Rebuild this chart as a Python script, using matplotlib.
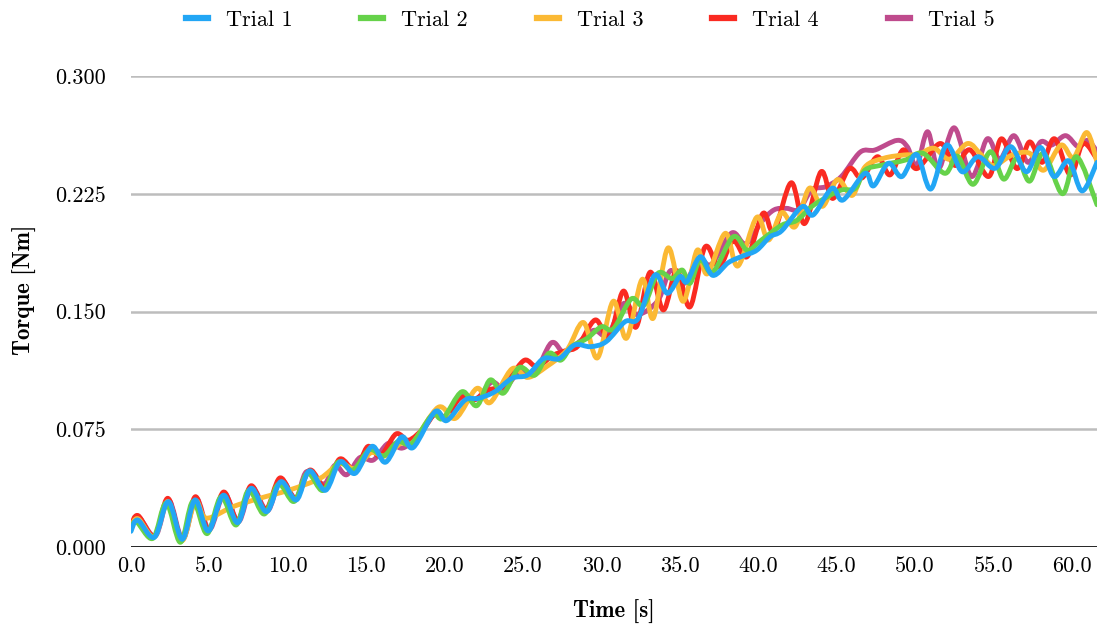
import numpy as np
import matplotlib
matplotlib.use("Agg")
import matplotlib.pyplot as plt
from matplotlib.path import Path
from matplotlib.patches import PathPatch
from matplotlib.lines import Line2D
from matplotlib.ticker import FormatStrFormatter

# ---- data: time [s] and torque [Nm] per trial ----
trial1_t = [0.0, 0.43, 1.49, 2.38, 3.27, 4.08, 4.93, 5.89, 6.8, 7.65, 8.65, 9.55, 10.55, 11.37, 12.4,
            13.33, 14.29, 15.36, 16.23, 17.26, 18.0, 19.39, 20.13, 21.3, 22.15, 23.2, 24.3, 25.3, 26.3,
            27.3, 28.3, 29.3, 30.3, 31.5, 32.35, 33.4, 34.2, 35.0, 35.45, 36.3, 37.1, 38.1, 39.05, 39.9,
            40.75, 41.5, 42.8, 43.5, 44.7, 45.4, 46.8, 47.35, 48.3, 49.15, 50.1, 51.0, 52.0, 53.0, 54.0,
            55.1, 56.1, 57.1, 58.0, 58.85, 59.8, 60.65, 61.6]
trial1_v = [0.010, 0.0172, 0.0062, 0.0289, 0.0049, 0.030, 0.0102, 0.033, 0.0155, 0.0374, 0.0225, 0.0416,
            0.0300, 0.0485, 0.0361, 0.0543, 0.0469, 0.0641, 0.054, 0.0701, 0.0634, 0.0862, 0.0805, 0.0936,
            0.0947, 0.0989, 0.1075, 0.1096, 0.120, 0.120, 0.1287, 0.1276, 0.1308, 0.1435, 0.1457, 0.1732,
            0.1616, 0.1722, 0.169, 0.1849, 0.173, 0.1812, 0.1855, 0.189, 0.1976, 0.2015, 0.2168, 0.2115,
            0.2285, 0.221, 0.238, 0.2300, 0.2444, 0.2359, 0.2500, 0.2280, 0.2560, 0.2390, 0.2486, 0.2412,
            0.2550, 0.2390, 0.2545, 0.2360, 0.2460, 0.2268, 0.2450]

trial2_t = [0.0, 0.35, 1.4, 2.25, 3.15, 3.95, 4.85, 5.75, 6.7, 7.5, 8.5, 9.4, 10.4, 11.25, 12.25, 13.2,
            14.15, 15.2, 16.1, 17.0, 17.9, 19.2, 19.9, 21.1, 22.05, 22.9, 23.75, 24.75, 25.75, 26.65,
            27.4, 28.1, 29.1, 30.0, 30.76, 31.9, 32.7, 33.6, 34.5, 35.15, 35.65, 36.3, 37.1, 38.4, 39.3,
            40.2, 41.5, 42.45, 43.4, 44.4, 45.3, 46.2, 46.8, 47.9, 49.4, 50.5, 51.9, 52.7, 53.7, 54.8,
            55.65, 56.5, 57.3, 58.2, 59.4, 60.3, 61.6]
trial2_v = [0.012, 0.016, 0.0055, 0.028, 0.003, 0.029, 0.0085, 0.032, 0.014, 0.036, 0.021, 0.040, 0.029,
            0.047, 0.036, 0.054, 0.049, 0.062, 0.058, 0.067, 0.066, 0.084, 0.082, 0.0989, 0.090, 0.1064,
            0.098, 0.1143, 0.1095, 0.1234, 0.119, 0.1276, 0.133, 0.1403, 0.139, 0.158, 0.154, 0.1743,
            0.171, 0.1764, 0.168, 0.183, 0.175, 0.1976, 0.189, 0.1955, 0.205, 0.208, 0.2168, 0.223,
            0.2274, 0.2285, 0.240, 0.2433, 0.2465, 0.2508, 0.238, 0.249, 0.231, 0.2518, 0.2343, 0.2476,
            0.233, 0.2508, 0.225, 0.2486, 0.218]

trial3_t = [0.0, 0.45, 1.5, 2.35, 3.25, 4.1, 4.8, 6.5, 8.2, 10.1, 12.05, 13.3, 14.3, 15.3, 16.2, 17.2,
            18.0, 19.6, 20.7, 22.05, 22.9, 24.3, 25.3, 26.5, 27.8, 28.85, 29.75, 30.75, 31.6, 32.6, 33.3,
            34.25, 35.2, 36.1, 36.75, 37.9, 38.7, 39.9, 40.65, 41.5, 42.35, 43.25, 44.1, 45.05, 46.0,
            46.8, 48.0, 49.3, 50.2, 51.2, 52.2, 53.35, 54.2, 55.0, 56.2, 57.3, 58.2, 59.3, 60.1, 60.95,
            61.6]
trial3_v = [0.013, 0.018, 0.0065, 0.029, 0.004, 0.029, 0.0184, 0.0257, 0.031, 0.0363, 0.0437, 0.053,
            0.050, 0.060, 0.058, 0.066, 0.067, 0.089, 0.082, 0.101, 0.0920, 0.1135, 0.1080, 0.1149,
            0.1255, 0.1430, 0.1205, 0.1565, 0.1330, 0.1705, 0.1457, 0.1905, 0.1565, 0.189, 0.174, 0.1998,
            0.1790, 0.210, 0.1955, 0.2130, 0.2040, 0.2285, 0.2170, 0.2340, 0.2240, 0.2420, 0.2476,
            0.2497, 0.2500, 0.2540, 0.2470, 0.2570, 0.2500, 0.2430, 0.2497, 0.2508, 0.2400, 0.2560,
            0.2480, 0.2640, 0.2450]

trial4_t = [0.0, 0.45, 1.5, 2.35, 3.25, 4.1, 4.95, 5.9, 6.8, 7.65, 8.6, 9.5, 10.5, 11.4, 12.4, 13.3,
            14.3, 15.1, 15.9, 16.9, 17.7, 18.7, 19.4, 20.1, 21.0, 21.9, 22.8, 23.7, 24.2, 25.1, 25.9,
            26.9, 27.7, 28.5, 29.6, 30.5, 31.4, 32.2, 33.1, 33.95, 34.8, 35.65, 36.6, 37.5, 38.4, 39.3,
            40.3, 41.0, 42.1, 42.95, 44.0, 44.75, 45.8, 46.6, 47.6, 48.4, 49.25, 50.1, 51.6, 52.55, 53.5,
            54.7, 55.5, 56.5, 57.3, 58.1, 58.9, 59.9, 60.7, 61.6]
trial4_v = [0.014, 0.020, 0.007, 0.031, 0.005, 0.032, 0.011, 0.035, 0.017, 0.039, 0.024, 0.044, 0.031,
            0.049, 0.038, 0.056, 0.049, 0.064, 0.058, 0.072, 0.068, 0.076, 0.085, 0.083, 0.095, 0.094,
            0.100, 0.102, 0.108, 0.119, 0.1149, 0.122, 0.125, 0.128, 0.1446, 0.134, 0.163, 0.140, 0.175,
            0.151, 0.176, 0.153, 0.191, 0.1785, 0.195, 0.185, 0.2125, 0.201, 0.232, 0.206, 0.239, 0.222,
            0.241, 0.235, 0.2486, 0.237, 0.253, 0.241, 0.257, 0.243, 0.253, 0.236, 0.260, 0.241, 0.258,
            0.245, 0.260, 0.237, 0.257, 0.247]

trial5_t = [0.0, 0.5, 1.55, 2.4, 3.3, 4.15, 5.0, 5.95, 6.85, 7.7, 8.7, 9.55, 10.5, 11.2, 12.3, 13.0,
            13.75, 14.6, 15.45, 16.4, 17.3, 18.2, 19.4, 20.1, 21.0, 22.0, 23.0, 23.8, 24.8, 25.7, 26.8,
            27.6, 28.5, 29.5, 30.4, 31.4, 32.3, 33.6, 34.4, 35.3, 36.2, 37.0, 38.3, 39.2, 40.2, 41.0,
            41.8, 42.6, 43.4, 44.3, 45.3, 46.5, 47.45, 48.85, 49.5, 50.1, 50.8, 51.5, 52.5, 53.6, 54.6,
            55.4, 56.3, 57.2, 58.0, 58.7, 59.6, 60.4, 61.0, 61.6]
trial5_v = [0.013, 0.019, 0.007, 0.030, 0.005, 0.031, 0.011, 0.034, 0.016, 0.038, 0.023, 0.043, 0.031,
            0.048, 0.040, 0.052, 0.046, 0.057, 0.0554, 0.066, 0.063, 0.070, 0.085, 0.083, 0.096, 0.094,
            0.105, 0.101, 0.112, 0.110, 0.130, 0.124, 0.130, 0.138, 0.135, 0.155, 0.148, 0.157, 0.176,
            0.168, 0.184, 0.180, 0.200, 0.193, 0.207, 0.2147, 0.2157, 0.215, 0.2274, 0.2295, 0.236,
            0.2515, 0.2529, 0.259, 0.255, 0.243, 0.2645, 0.241, 0.267, 0.236, 0.260, 0.247, 0.262, 0.245,
            0.258, 0.256, 0.262, 0.255, 0.259, 0.252]

labels = ["Trial 1", "Trial 2", "Trial 3", "Trial 4", "Trial 5"]
colors = ["#22a6f5", "#66d24a", "#fbb934", "#fa2a21", "#bf4b8d"]
series = [(trial1_t, trial1_v), (trial2_t, trial2_v), (trial3_t, trial3_v),
          (trial4_t, trial4_v), (trial5_t, trial5_v)]

x_ticks = np.arange(0, 61, 5.0)
y_ticks = [0.000, 0.075, 0.150, 0.225, 0.300]


def smooth_path(t, v):
    """Catmull-Rom curve through the samples, expressed as cubic Bezier segments."""
    p = np.column_stack([t, v]).astype(float)
    ext = np.vstack([p[0], p, p[-1]])
    verts = [p[0]]
    codes = [Path.MOVETO]
    for i in range(len(p) - 1):
        p0, p1, p2, p3 = ext[i], ext[i + 1], ext[i + 2], ext[i + 3]
        verts += [p1 + (p2 - p0) / 6.0, p2 - (p3 - p1) / 6.0, p2]
        codes += [Path.CURVE4] * 3
    return Path(verts, codes)


plt.rcParams["font.family"] = "cmr10"
plt.rcParams["mathtext.fontset"] = "cm"
plt.rcParams["axes.formatter.use_mathtext"] = True

fig = plt.figure(figsize=(10.99, 6.30), dpi=100)
ax = fig.add_axes([131 / 1099, 83 / 630, 966 / 1099, 471 / 630])

# later trials underneath, Trial 1 on top
for (t, v), c in list(zip(series, colors))[::-1]:
    assert len(t) == len(v)
    ax.add_patch(PathPatch(smooth_path(t, v), facecolor="none", edgecolor=c, lw=3.5,
                           capstyle="round", joinstyle="round", zorder=3))

ax.set_xlim(0, 61.6)
ax.set_ylim(0, 0.3)
ax.set_xticks(x_ticks)
ax.set_yticks(y_ticks)
ax.xaxis.set_major_formatter(FormatStrFormatter("%.1f"))
ax.yaxis.set_major_formatter(FormatStrFormatter("%.3f"))
ax.tick_params(axis="both", length=0, labelsize=16)
ax.tick_params(axis="y", pad=18)
ax.tick_params(axis="x", pad=7)

for s in ax.spines.values():
    s.set_visible(False)
for yv in y_ticks[1:]:
    ax.axhline(yv, color="#bdbdbd", lw=1.8, zorder=1)
ax.axhline(0, color="#111111", lw=2.0, zorder=2)

ax.set_xlabel("Time [s]", fontsize=16.5, family="cmb10")
ax.set_ylabel("Torque [Nm]", fontsize=16.5, family="cmb10")
ax.xaxis.set_label_coords(0.5, -0.112)
ax.yaxis.set_label_coords(-0.0975, 0.546)

handles = [Line2D([], [], color=c, lw=4.5) for c in colors]
fig.legend(handles, labels, loc="center", bbox_to_anchor=(590 / 1099, 1 - 20 / 630),
           ncol=5, frameon=False, fontsize=16, handlelength=1.0, handletextpad=0.8,
           columnspacing=3.1)

fig.savefig("out.png", dpi=100)
